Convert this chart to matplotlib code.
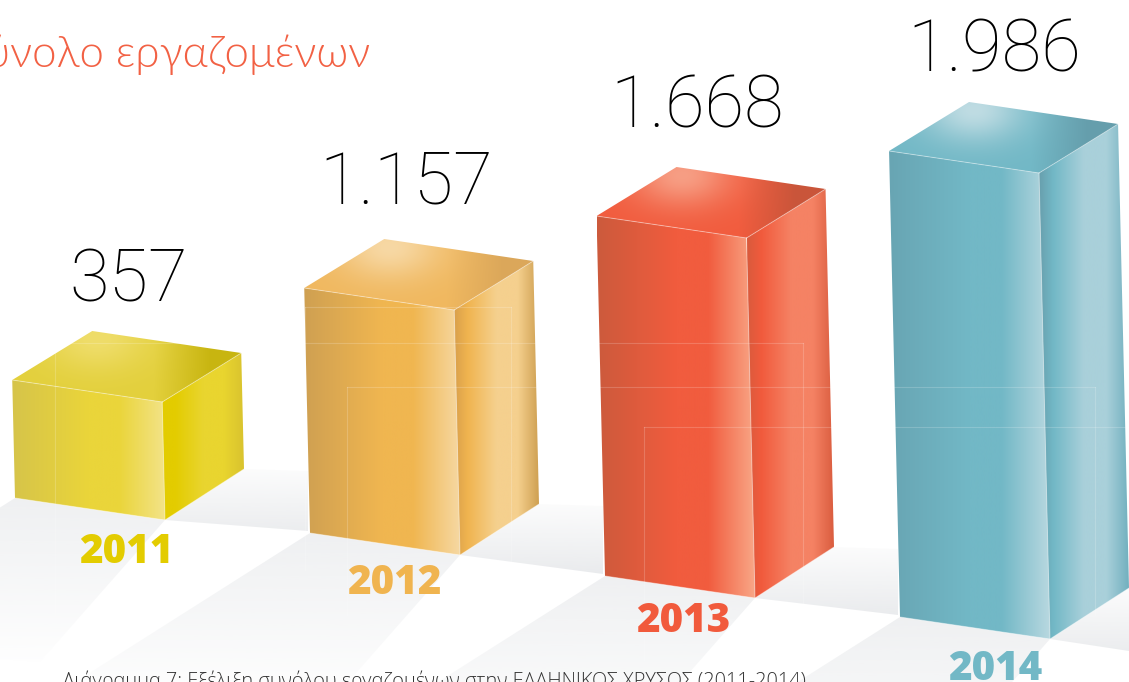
import numpy as np
import matplotlib
matplotlib.use("Agg")
from matplotlib import pyplot as plt
from matplotlib.colors import LinearSegmentedColormap, to_rgb
from matplotlib.patches import Polygon

# data
years = ["2011", "2012", "2013", "2014"]
value_labels = ["357", "1.157", "1.668", "1.986"]
drawn_heights = [118, 245, 360, 466]

year_colors = ["#E3CC00", "#F0B44F", "#F15A3C", "#72B8C6"]
front_dark = ["#D6C44A", "#CFA052", "#CC5A3C", "#68A5B3"]
front_base = ["#EAD53A", "#F0B650", "#F15C3E", "#72B8C6"]
front_light = ["#F3E388", "#F6D8A2", "#F9A888", "#B8D8E0"]
side_start = ["#E3CC00", "#D9A04C", "#D95B3D", "#689FAD"]
side_light = ["#E9D52F", "#F5D08E", "#F58264", "#A9D0DA"]
side_end = ["#D9C32E", "#CFA052", "#D95B3D", "#72B0BF"]
top_light = ["#EFDD6A", "#F7D8A4", "#F79E84", "#BFDCE3"]
top_base = ["#E3D03C", "#F0B85F", "#F15C3E", "#72B8C6"]
top_dark = ["#C8B510", "#DBA75A", "#C9553A", "#659EAC"]

title = "Σύνολο εργαζομένων"
caption = "Διάγραμμα 7: Εξέλιξη συνόλου εργαζομένων στην ΕΛΛΗΝΙΚΟΣ ΧΡΥΣΟΣ (2011-2014)"

fig = plt.figure(figsize=(11.29, 6.82), dpi=100)
ax = fig.add_axes([0, 0, 1, 1])
ax.axis("off")


def clip_to(im, poly):
    im.set_clip_path(Polygon(poly, transform=ax.transData))


def side_gradient(poly, stops, z):
    xs = [p[0] for p in poly]
    ys = [p[1] for p in poly]
    cmap = LinearSegmentedColormap.from_list("g", stops)
    im = ax.imshow(np.linspace(0, 1, 256)[None, :], cmap=cmap, aspect="auto", zorder=z,
                   extent=(min(xs), max(xs), max(ys), min(ys)))
    clip_to(im, poly)


def top_face(poly, hi, light, base, dark, z):
    xs = [p[0] for p in poly]
    ys = [p[1] for p in poly]
    X, Y = np.meshgrid(np.linspace(min(xs), max(xs), 240), np.linspace(min(ys), max(ys), 120))
    t = np.clip(((X - min(xs)) / (max(xs) - min(xs)) - 0.62) / 0.25, 0, 1)[..., None]
    rgb = np.array(to_rgb(base)) * (1 - t) + np.array(to_rgb(dark)) * t
    d = np.hypot(X - hi[0], (Y - hi[1]) * 1.6)
    g = np.exp(-(d / 50.0) ** 2)[..., None]
    rgb = rgb * (1 - g) + np.array(to_rgb(light)) * g
    im = ax.imshow(rgb, aspect="auto", zorder=z, extent=(min(xs), max(xs), max(ys), min(ys)))
    clip_to(im, poly)


def shadow(poly, y0, y1, a0, a1, z=1):
    ys = np.linspace(0, 1, 128)[:, None]
    rgba = np.zeros((128, 1, 4))
    rgba[..., :3] = to_rgb("#D5D8DC")
    rgba[..., 3] = a0 + (a1 - a0) * ys
    im = ax.imshow(rgba, aspect="auto", zorder=z, extent=(0, 1129, y1, y0))
    clip_to(im, poly)


base_x = [15, 310, 605, 900]
base_y = [498, 533, 576, 617]

# one box per year
for i in range(len(years)):
    h = drawn_heights[i]
    bx = base_x[i]
    by = base_y[i]
    lean = h * 0.0235

    bl = (bx, by)
    br = (bx + 150, by + 22)
    tl = (bx - lean, by - h)
    tr = (bx + 150 - lean, by + 22 - h)
    back = (tl[0] + 80, tl[1] - 49)
    rt = (tr[0] + 79, tr[1] - 49)
    rb = (br[0] + 79, br[1] - 51)

    # floor shadows: one falling forward, one running to the next bar
    fwd = [bl, br, (br[0] - 125, br[1] + 142), (bl[0] - 230, bl[1] + 146)]
    shadow(fwd, by, by + 165, 0.38, 0.02)
    if i < 3:
        next_y = base_y[i + 1]
        run = [br, rb, (base_x[i + 1] - 2, rb[1] + 2), (base_x[i + 1] - 2, next_y - 2)]
    else:
        run = [br, rb, (1129, rb[1]), (1129, br[1] + 12)]
    shadow(run, rb[1], br[1] + 26, 0.08, 0.55)

    side_gradient([tl, tr, br, bl], [(0, front_dark[i]), (0.5, front_base[i]), (0.7, front_base[i]), (1, front_light[i])], 3)
    side_gradient([tr, rt, rb, br], [(0, side_start[i]), (0.16, year_colors[i]), (0.5, side_light[i]), (0.75, side_light[i]), (1, side_end[i])], 3)
    top_face([tl, back, rt, tr], (back[0] + 5, back[1] + 8), top_light[i], top_base[i], top_dark[i], 3)

    for a, b in [(tl, tr), (tr, rt), (tr, br), (bl, br), (br, rb)]:
        ax.plot([a[0], b[0]], [a[1], b[1]], color="white", lw=0.7, alpha=0.4, zorder=4)

# faint frames lying over the boxes
for x, y, x2, y2 in [(55, 343, 803, 682), (305, 307, 511, 570), (347, 387, 1095, 615), (644, 427, 1129, 660)]:
    ax.plot([x, x2], [y, y], color="white", lw=0.8, alpha=0.18, zorder=5)
    ax.plot([x, x], [y, y2], color="white", lw=0.8, alpha=0.18, zorder=5)
    ax.plot([x2, x2], [y, y2], color="white", lw=0.8, alpha=0.18, zorder=5)

value_x = [129, 406, 697, 994]
value_y = [302, 203, 128, 72]
year_x = [126, 394, 683, 995]
year_y = [563, 594, 632, 680]
for i in range(len(years)):
    ax.text(value_x[i], value_y[i], value_labels[i], fontsize=52, family="Roboto", weight=100,
            color="black", ha="center", va="baseline", zorder=6)
    ax.text(year_x[i], year_y[i], years[i], fontsize=29, family="Open Sans", weight=800,
            color=year_colors[i], ha="center", va="baseline", zorder=6)

ax.text(370, 67, title, fontsize=31.5, family="Lato", weight=300, color="#F26144",
        ha="right", va="baseline", zorder=6)
ax.text(63, 687, caption, fontsize=14.3, family="Open Sans", weight=300, color="#333333",
        ha="left", va="baseline", zorder=6)

ax.set_xlim(0, 1129)
ax.set_ylim(682, 0)
fig.savefig("out.png", dpi=100, facecolor="white")
